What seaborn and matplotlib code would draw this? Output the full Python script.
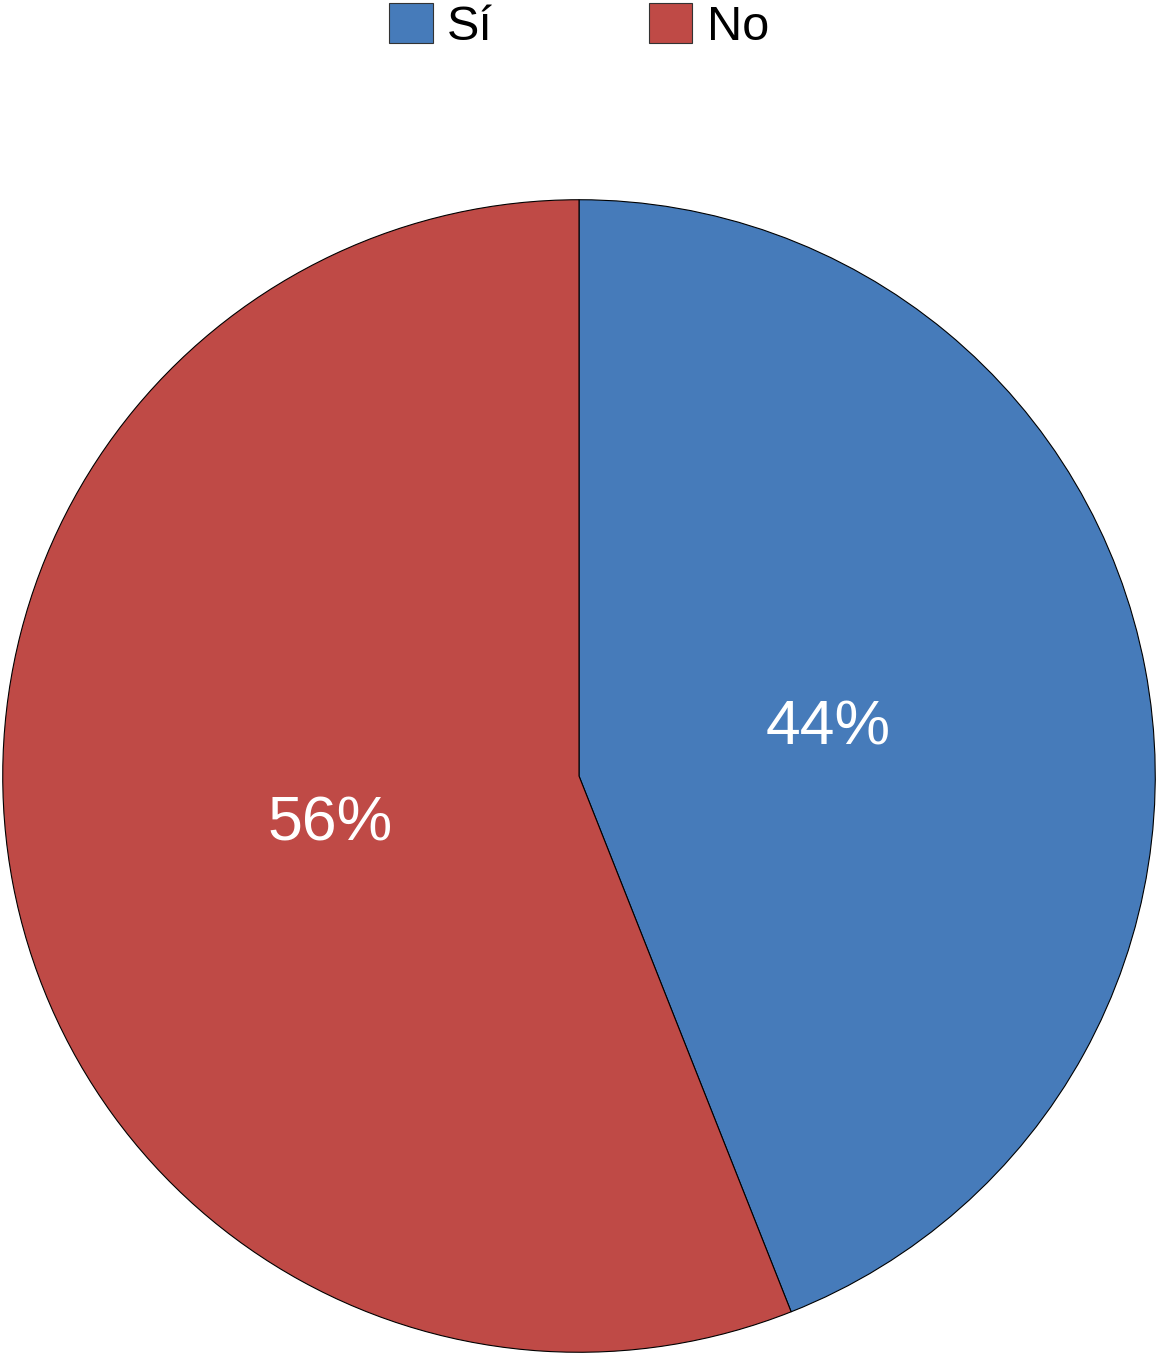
import matplotlib
matplotlib.use("Agg")
import matplotlib.pyplot as plt
import seaborn as sns
from matplotlib.patches import Patch

sns.set_theme(style="white")
plt.rcParams['font.family'] = ['Liberation Sans', 'DejaVu Sans']

categories = ["Sí", "No"]
values = [44, 56]
colors = ["#467BBA", "#BF4A46"]

fig = plt.figure(figsize=(11.58, 13.54), dpi=100)
ax = fig.add_axes([0, 0, 1, 1156 / 1354])

wedges, texts, autotexts = ax.pie(
    values, colors=colors, startangle=90, counterclock=False,
    autopct="%1.0f%%", pctdistance=0.44,
    wedgeprops=dict(edgecolor="black", linewidth=0.8),
    textprops=dict(color="white", fontsize=45),
)
ax.set_xlim(-1.003, 1.003)
ax.set_ylim(-1.003, 1.003)
ax.set_aspect("equal")
ax.axis("off")

handles = [Patch(facecolor=c, edgecolor="#333333", linewidth=0.8) for c in colors]
fig.legend(handles, categories, loc="upper center", bbox_to_anchor=(0.5, 1.03),
           ncol=2, frameon=False, fontsize=35, handlelength=0.9, handleheight=0.9,
           handletextpad=0.3, columnspacing=3.2, labelcolor="black")

fig.savefig("out.png", dpi=100)
